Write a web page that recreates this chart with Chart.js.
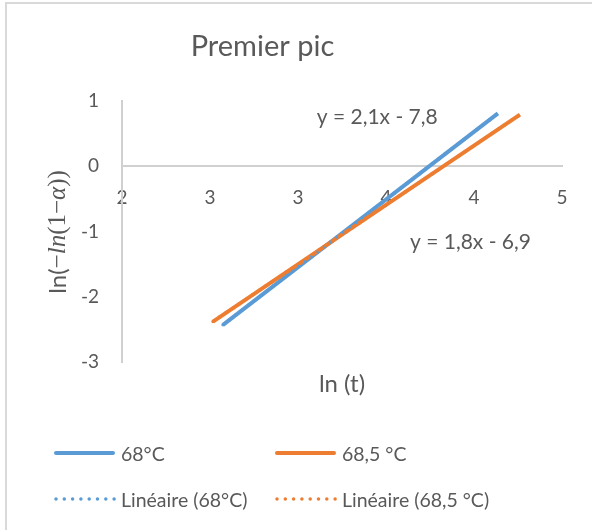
<!DOCTYPE html>
<html>
<head>
<meta charset="utf-8">
<script src="https://cdn.jsdelivr.net/npm/chart.js@4.4.1/dist/chart.umd.min.js"></script>
<style>
html,body{margin:0;padding:0;background:#fff;}
#wrap{position:relative;width:592px;height:530px;overflow:hidden;background:#fff;}
#frame{position:absolute;left:5px;top:2px;width:600px;height:600px;border-left:2px solid #d9d9d9;border-top:2px solid #d9d9d9;pointer-events:none;}
#c{position:absolute;left:0;top:0;}
#legend{position:absolute;left:54px;top:437px;display:grid;grid-template-columns:221px 250px;row-gap:14px;font-family:Lato,sans-serif;font-size:19.5px;color:#595959;}
.item{display:flex;align-items:center;height:32px;white-space:nowrap;}
.item svg{margin-right:5px;flex:none;}
</style>
</head>
<body>
<div id="wrap">
  <canvas id="c" width="592" height="530"></canvas>
  <div id="frame"></div>
  <div id="legend"></div>
</div>
<script>
// ---- data ----
const seriesNames = ['68°C', '68,5 °C'];
const trendNames = ['Linéaire (68°C)', 'Linéaire (68,5 °C)'];
const x68 = [2.574, 4.136];
const y68 = [-2.43, 0.81];
const x685 = [2.517, 4.261];
const y685 = [-2.38, 0.79];
const trendX68 = [2.574, 4.136];
const trendY68 = [-2.43, 0.81];
const trendX685 = [2.517, 4.261];
const trendY685 = [-2.38, 0.79];
const xTicks = [2, 2.5, 3, 3.5, 4, 4.5];
const xTickLabels = ['2', '3', '3', '4', '4', '5'];
const yTicks = [1, 0, -1, -2, -3];
const yTickLabels = ['1', '0', '-1', '-2', '-3'];
const equations = ['y = 2,1x - 7,8', 'y = 1,8x - 6,9'];
const chartTitle = 'Premier pic';
const xTitle = 'ln (t)';

const BLUE = '#5B9BD5';
const ORANGE = '#ED7D31';
const TXT = '#595959';
const AXIS = '#d0d0d0';
const FONT = 'Lato, sans-serif';

const pts = (xs, ys) => xs.map((x, i) => ({x: x, y: ys[i]}));

const extras = {
  id: 'extras',
  afterDraw(chart, args, opts) {
    const ctx = chart.ctx;
    const ca = chart.chartArea;
    const xs = chart.scales.x, ys = chart.scales.y;
    ctx.save();
    ctx.fillStyle = TXT;
    ctx.textAlign = 'center';
    ctx.textBaseline = 'middle';
    // chart title
    ctx.font = '29px ' + FONT;
    ctx.fillText(chartTitle, 262.5, 47);
    // x title
    ctx.font = '24px ' + FONT;
    ctx.fillText(xTitle, (ca.left + ca.right) / 2, ca.bottom + 22);
    // equations
    ctx.font = '21px ' + FONT;
    opts.labels.forEach((l, i) => {
      ctx.fillText(equations[i], xs.getPixelForValue(l.x), ys.getPixelForValue(l.y));
    });
    // y title with mixed fonts
    const segs = [
      {t: 'ln(', f: '24px ' + FONT},
      {t: '\u2212', f: '25px "Liberation Serif", serif'},
      {t: 'ln', f: 'italic 25px "Liberation Serif", serif'},
      {t: '(1\u2212', f: '25px "Liberation Serif", serif'},
      {t: '\u03b1', f: 'italic 25px "Liberation Serif", serif'},
      {t: '))', f: '25px "Liberation Serif", serif'}
    ];
    let total = 0;
    segs.forEach(s => { ctx.font = s.f; s.w = ctx.measureText(s.t).width; total += s.w; });
    ctx.translate(58, 232);
    ctx.rotate(-Math.PI / 2);
    ctx.textAlign = 'left';
    ctx.textBaseline = 'middle';
    let cx = -total / 2;
    segs.forEach(s => { ctx.font = s.f; ctx.fillText(s.t, cx, 0); cx += s.w; });
    ctx.restore();
  }
};

const chart = new Chart(document.getElementById('c'), {
  type: 'scatter',
  data: {
    datasets: [
      {label: seriesNames[0], data: pts(x68, y68), showLine: true, borderColor: BLUE, backgroundColor: BLUE, borderWidth: 4, pointRadius: 0, order: 4},
      {label: seriesNames[1], data: pts(x685, y685), showLine: true, borderColor: ORANGE, backgroundColor: ORANGE, borderWidth: 4, pointRadius: 0, order: 3},
      {label: trendNames[0], data: pts(trendX68, trendY68), showLine: true, borderColor: BLUE, backgroundColor: BLUE, borderWidth: 3.5, borderDash: [0, 8], borderCapStyle: 'round', pointRadius: 0, order: 2},
      {label: trendNames[1], data: pts(trendX685, trendY685), showLine: true, borderColor: ORANGE, backgroundColor: ORANGE, borderWidth: 3.5, borderDash: [0, 8], borderCapStyle: 'round', pointRadius: 0, order: 1}
    ]
  },
  options: {
    responsive: false,
    animation: false,
    devicePixelRatio: 1,
    layout: {padding: {left: 0, right: 30, top: 101, bottom: 168}},
    plugins: {
      legend: {display: false},
      tooltip: {enabled: false},
      title: {display: false},
      extras: {labels: [{x: 3.45, y: 0.75}, {x: 3.98, y: -1.17}]}
    },
    scales: {
      x: {
        type: 'linear', min: 2, max: 4.5, position: {y: 0},
        afterBuildTicks: s => { s.ticks = xTicks.map(v => ({value: v})); },
        ticks: {
          callback: v => xTickLabels[xTicks.indexOf(v)],
          color: TXT, font: {family: FONT, size: 19}, padding: 20, maxRotation: 0, autoSkip: false
        },
        grid: {display: false, drawTicks: false},
        border: {display: true, color: AXIS, width: 2}
      },
      y: {
        type: 'linear', min: -3, max: 1, position: 'left',
        afterBuildTicks: s => { s.ticks = yTicks.map(v => ({value: v})); },
        afterFit: s => { s.width = 122; },
        ticks: {
          callback: v => yTickLabels[yTicks.indexOf(v)],
          color: TXT, font: {family: FONT, size: 19}, padding: 23, autoSkip: false
        },
        grid: {display: false, drawTicks: false},
        border: {display: true, color: AXIS, width: 2}
      }
    }
  },
  plugins: [extras]
});

// HTML legend built from the chart's datasets
const leg = document.getElementById('legend');
chart.data.datasets.forEach(ds => {
  const dotted = !!ds.borderDash;
  const line = dotted
    ? `<line x1="2" y1="5" x2="60.2" y2="5" stroke="${ds.borderColor}" stroke-width="3.5" stroke-linecap="round" stroke-dasharray="0 8.3"/>`
    : `<line x1="2" y1="5" x2="59" y2="5" stroke="${ds.borderColor}" stroke-width="4" stroke-linecap="round"/>`;
  const div = document.createElement('div');
  div.className = 'item';
  div.innerHTML = `<svg width="62" height="10">${line}</svg><span>${ds.label}</span>`;
  leg.appendChild(div);
});
</script>
</body>
</html>
